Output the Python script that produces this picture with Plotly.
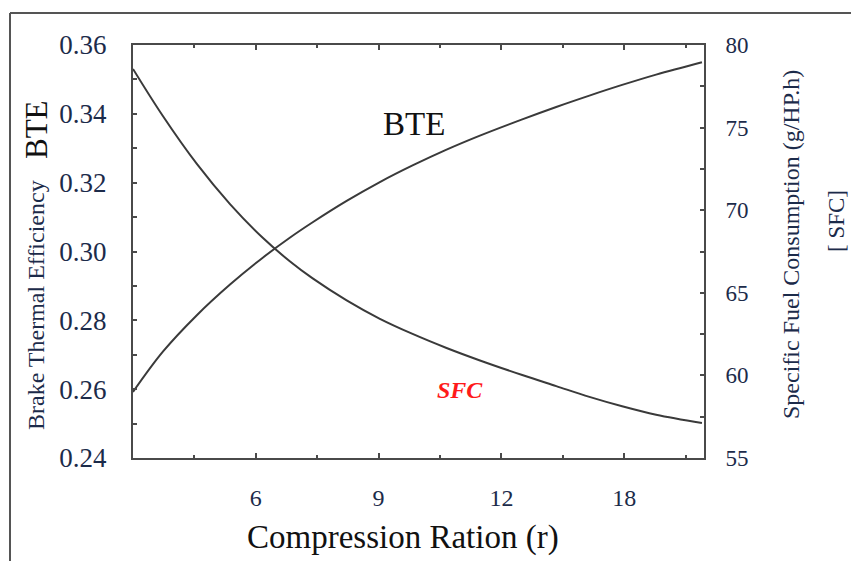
import plotly.graph_objects as go

# Compression ratio axis positions (axis units) and tick labels
ratio_pos = [3.0, 3.73, 4.56, 5.37, 6.17, 6.83, 7.39, 8.22, 9.02, 9.83,
             10.66, 11.46, 12.51, 13.34, 14.15, 14.95, 15.78, 16.9]
bte = [0.2592, 0.2709, 0.2815, 0.2904, 0.2982, 0.3040, 0.3085, 0.3147, 0.3201, 0.3250,
       0.3296, 0.3336, 0.3384, 0.3420, 0.3453, 0.3484, 0.3514, 0.3550]
sfc = [78.55, 75.70, 72.80, 70.37, 68.33, 66.91, 65.87, 64.54, 63.44, 62.51,
       61.66, 60.92, 60.02, 59.35, 58.70, 58.13, 57.62, 57.12]
x_tickvals = [6, 9, 12, 15]
x_ticktext = ["6", "9", "12", "18"]

SERIF = "Liberation Serif, Times New Roman, serif"
TICKC = "#1c2b4a"
AXC = "#4a4a4a"

fig = go.Figure()
fig.add_trace(go.Scatter(x=ratio_pos, y=bte, mode="lines",
                         line=dict(color="#3a3a3a", width=2, shape="spline", smoothing=1.0),
                         name="BTE", showlegend=False))
fig.add_trace(go.Scatter(x=ratio_pos, y=sfc, mode="lines", yaxis="y2",
                         line=dict(color="#3a3a3a", width=2, shape="spline", smoothing=1.0),
                         name="SFC", showlegend=False))

L, R, T, B = 133, 147, 45, 103
W, H = 851, 561
pw, ph = W - L - R, H - T - B

def px(xp):
    return (xp - L) / pw

def py(yp):
    return (H - B - yp) / ph

fig.update_layout(
    width=W, height=H,
    margin=dict(l=L, r=R, t=T, b=B),
    paper_bgcolor="white", plot_bgcolor="white",
    font=dict(family=SERIF, color=TICKC),
    xaxis=dict(range=[3, 16.95], tickmode="array", tickvals=x_tickvals, ticktext=x_ticktext,
               showgrid=False, zeroline=False, showline=True, linecolor=AXC, linewidth=2,
               mirror="ticks", ticks="inside", ticklen=5, tickcolor=AXC, tickwidth=2,
               ticklabelstandoff=17, tickfont=dict(size=24, family=SERIF, color=TICKC),
               minor=dict(dtick=1.5, tick0=0, ticks="inside", ticklen=3, tickcolor=AXC, tickwidth=2)),
    yaxis=dict(range=[0.24, 0.36], dtick=0.02, tickformat=".2f",
               showgrid=False, zeroline=False, showline=True, linecolor=AXC, linewidth=2,
               ticks="inside", ticklen=4, tickcolor=AXC, tickwidth=2,
               ticklabelstandoff=19, tickfont=dict(size=27, family=SERIF, color=TICKC),
               minor=dict(dtick=0.01, ticks="inside", ticklen=4, tickcolor=AXC, tickwidth=2)),
    yaxis2=dict(range=[55, 80], dtick=5, overlaying="y", side="right",
                showgrid=False, zeroline=False, showline=True, linecolor=AXC, linewidth=2,
                ticks="inside", ticklen=4, tickcolor=AXC, tickwidth=2,
                ticklabelstandoff=15, tickfont=dict(size=23, family=SERIF, color=TICKC),
                minor=dict(dtick=2.5, ticks="inside", ticklen=4, tickcolor=AXC, tickwidth=2)),
)

ann = [
    dict(x=px(36), y=py(305), text="Brake Thermal Efficiency", textangle=-90, font=dict(size=24, color=TICKC)),
    dict(x=px(36), y=py(130), text="BTE", textangle=-90, font=dict(size=31, color="#111")),
    dict(x=px(791), y=py(245), text="Specific Fuel Consumption (g/HP.h)", textangle=-90, font=dict(size=24, color=TICKC)),
    dict(x=px(836), y=py(221), text="[ SFC]", textangle=-90, font=dict(size=23, color=TICKC)),
    dict(x=px(403), y=py(537), text="Compression Ration (r)", font=dict(size=33, color="#111")),
    dict(x=px(414), y=py(124), text="BTE", font=dict(size=33, color="#111")),
    dict(x=px(460), y=py(390), text="<b><i>SFC</i></b>", font=dict(size=24, color="#ff1a1a")),
]
for a in ann:
    a.update(xref="paper", yref="paper", showarrow=False, xanchor="center", yanchor="middle")
    a["font"]["family"] = SERIF
fig.update_layout(annotations=ann)

fig.update_layout(shapes=[
    dict(type="line", xref="paper", yref="paper", x0=px(10), x1=px(851), y0=py(13), y1=py(13),
         line=dict(color="#555", width=2)),
    dict(type="line", xref="paper", yref="paper", x0=px(10), x1=px(10), y0=py(13), y1=py(561),
         line=dict(color="#555", width=2)),
])

fig.write_html("out.html", config={"displayModeBar": False},
               post_script="document.body.style.margin='0';")
